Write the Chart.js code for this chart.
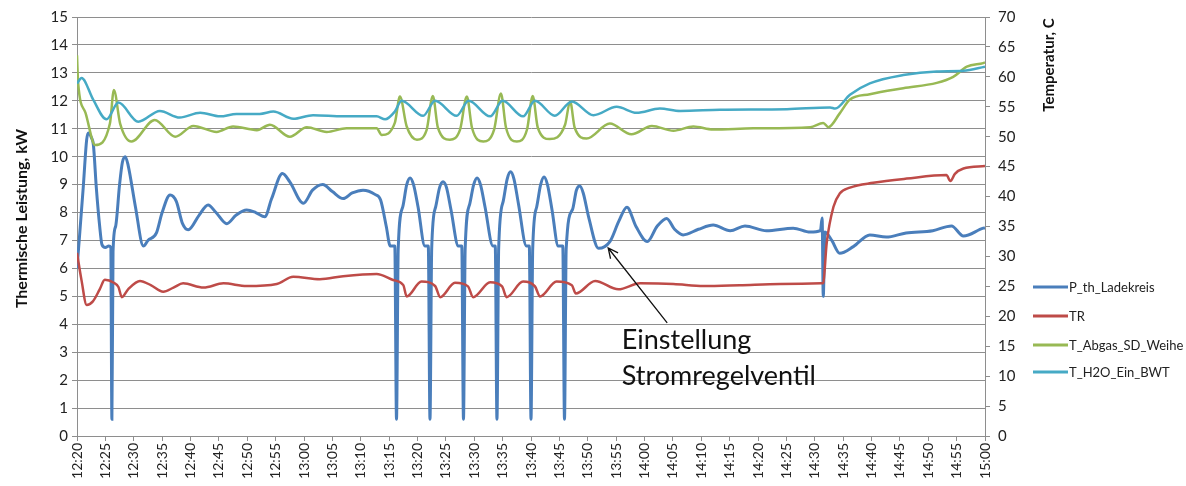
<!DOCTYPE html>
<html>
<head>
<meta charset="utf-8">
<script src="https://cdn.jsdelivr.net/npm/chart.js@4.4.1/dist/chart.umd.min.js"></script>
<style>
  html, body { margin: 0; padding: 0; background: #fff; }
  canvas { display: block; }
</style>
</head>
<body>
<canvas id="chart" width="1186" height="486"></canvas>
<script>
// x-Achse: Minuten seit 12:20
const timeTicks = ['12:20', '12:25', '12:30', '12:35', '12:40', '12:45', '12:50', '12:55',
  '13:00', '13:05', '13:10', '13:15', '13:20', '13:25', '13:30', '13:35', '13:40', '13:45',
  '13:50', '13:55', '14:00', '14:05', '14:10', '14:15', '14:20', '14:25', '14:30', '14:35',
  '14:40', '14:45', '14:50', '14:55', '15:00'];

const seriesNames = ['P_th_Ladekreis', 'TR', 'T_Abgas_SD_Weihe', 'T_H2O_Ein_BWT'];

// P_th_Ladekreis, kW (linke Achse)
const pthMinutes = [0, 0.5, 1.1, 1.7, 2.0, 2.5, 2.9, 3.4, 4.0, 4.4, 5.0, 5.6, 5.95, 6.15, 6.35,
  6.8, 7.5, 8.0, 8.5, 9.0, 10.3, 11.7, 12.5, 14.0, 15.0, 16.4, 17.5, 18.6, 19.6, 21.5, 23.1, 24.5,
  26.4, 28.0, 29.9, 31.5, 33.1, 34.3, 36.2, 37.5, 39.9, 41.5, 43.3, 45.0, 46.9, 48.5, 50.4,
  52.5, 53.5, 54.5, 55.2, 56.0, 56.3,
  56.6, 57.4, 58.1, 58.7, 59.3, 60.1, 61.3, 61.9, 62.2,
  62.5, 63.2, 63.9, 64.5, 65.1, 65.9, 67.2, 67.8, 68.1,
  68.4, 69.2, 69.9, 70.5, 71.1, 71.9, 73.3, 73.7, 74.0,
  74.3, 75.1, 75.8, 76.4, 77.0, 77.8, 79.2, 79.7, 80.0,
  80.3, 81.0, 81.7, 82.3, 82.9, 83.7, 84.8, 85.6, 85.9,
  86.2, 87.3, 88.0, 88.6, 89.2, 90.2,
  91.9, 93.9, 95.5, 96.9, 98.5, 100.5, 102.2, 103.9, 105.3, 106.8, 109.5, 112.1, 115.1,
  117.7, 121.5, 126.2, 129.2, 131.0, 131.3, 131.5, 131.8, 133.0, 134.4, 136.8, 139.7, 142.6,
  146.1, 150.8, 154.1, 156.2, 159.7, 160];
const pthValues = [6.0, 7.3, 8.9, 10.6, 10.85, 10.7, 10.4, 8.9, 7.5, 6.85, 6.75, 6.8, 6.75, 0.6, 6.6,
  7.5, 9.0, 9.8, 10.0, 9.7, 8.2, 6.8, 7.0, 7.27, 8.0, 8.63, 8.4, 7.6, 7.38, 7.9, 8.27, 8.0,
  7.6, 7.9, 8.09, 8.0, 7.85, 8.5, 9.4, 9.1, 8.33, 8.8, 9.0, 8.75, 8.5, 8.7, 8.8,
  8.65, 8.45, 7.5, 6.8, 6.8, 0.6,
  6.7, 8.2, 9.0, 9.24, 9.0, 8.2, 6.8, 6.8, 0.6,
  6.7, 8.2, 8.9, 9.1, 8.9, 8.1, 6.8, 6.8, 0.6,
  6.7, 8.3, 9.0, 9.24, 9.0, 8.2, 6.8, 6.8, 0.6,
  6.7, 8.4, 9.2, 9.46, 9.2, 8.3, 6.8, 6.8, 0.6,
  6.7, 8.2, 9.0, 9.27, 9.0, 8.1, 6.8, 6.8, 0.6,
  6.7, 8.1, 8.8, 8.95, 8.7, 7.8,
  6.72, 6.96, 7.7, 8.19, 7.5, 6.96, 7.5, 7.79, 7.4, 7.2, 7.4, 7.55, 7.35,
  7.52, 7.35, 7.44, 7.3, 7.35, 7.8, 5.0, 7.3, 7.0, 6.54, 6.78, 7.2, 7.12,
  7.27, 7.35, 7.52, 7.16, 7.44, 7.45];

// TR, °C (rechte Achse)
const trMinutes = [0, 0.8, 1.7, 2.8, 4.0, 4.9, 6.5, 7.3, 7.9, 9.0, 11.1, 13.0, 15.2, 17.0, 18.7,
  22.3, 25.8, 29.9, 35.2, 38.1, 42.8, 46.9, 52.8, 55.7, 57.5, 58.1, 60.7, 63.1, 64.0, 66.6,
  68.9, 69.8, 72.8, 74.9, 75.7, 78.6, 80.7, 81.6, 84.5, 87.2, 87.9, 91.3, 95.4, 99.2, 105.1,
  110.4, 116.8, 123.9, 131.2, 131.5, 132.1, 133.3, 134.4, 136.2, 140.3, 146.2, 153.2, 153.9,
  154.7, 156.2, 160];
const trValues = [30.6, 26.0, 21.9, 22.5, 24.5, 26.1, 25.6, 24.9, 23.2, 24.5, 25.9, 25.2, 24.1, 24.8, 25.5,
  24.8, 25.5, 25.06, 25.4, 26.6, 26.2, 26.7, 27.06, 26.06, 25.2, 23.3, 25.8, 25.06, 23.2, 25.6,
  25.0, 23.2, 25.7, 25.0, 23.2, 25.8, 25.0, 23.3, 25.8, 25.2, 23.8, 25.9, 24.5, 25.5, 25.4,
  25.06, 25.2, 25.4, 25.5, 25.6, 32.2, 38.3, 40.5, 41.5, 42.3, 43.0, 43.6, 42.6,
  43.8, 44.7, 45.1];

// T_Abgas_SD_Weihe, °C (rechte Achse)
const abgasMinutes = [0, 0.2, 1.5, 3.2, 5.8, 6.5, 7.6, 9.6, 13.7, 17.3, 20.5, 24.6, 27.5, 31.7, 34.0,
  37.5, 40.5, 44.0, 47.5, 52.8, 53.7, 56.0, 56.9, 58.1, 59.9, 61.6, 62.7, 63.6, 65.7, 67.5,
  68.7, 69.6, 71.6, 73.5, 74.7, 75.6, 77.5, 79.3, 80.3, 81.2, 83.3, 86.0, 86.9, 87.7, 89.8,
  93.9, 97.7, 101.3, 105.1, 108.6, 112.1, 119.2, 129.2, 131.5, 132.4, 134.4, 136.2, 139.7,
  145.6, 151.5, 154.4, 156.8, 159.7, 160];
const abgasValues = [63.6, 59.0, 54.0, 48.6, 52.2, 57.8, 52.2, 49.2, 52.8, 50.0, 51.8, 50.8, 51.7, 51.1, 52.0,
  50.0, 51.6, 50.8, 51.4, 51.4, 50.3, 52.3, 56.7, 51.7, 49.5, 51.1, 56.8, 51.5, 49.5, 51.2,
  56.7, 51.5, 49.2, 51.2, 57.2, 51.5, 49.2, 51.2, 56.8, 51.5, 49.6, 52.0, 55.9, 51.5, 49.7,
  52.2, 50.4, 51.8, 51.0, 51.7, 51.2, 51.4, 51.6, 52.3, 51.6, 53.9, 56.2, 57.1,
  58.1, 59.0, 60.0, 61.7, 62.3, 62.4];

// T_H2O_Ein_BWT, °C (rechte Achse)
const h2oMinutes = [0, 0.8, 2.9, 5.2, 7.3, 10.8, 14.6, 18.1, 21.7, 25.2, 28.1, 32.2, 34.6, 38.1, 41.6,
  46.9, 52.8, 54.3, 56.0, 57.2, 61.0, 63.1, 66.9, 69.0, 72.8, 75.0, 78.6, 80.7, 84.2, 87.2,
  91.0, 95.1, 98.6, 102.7, 106.3, 113.3, 125.1, 132.7, 133.6, 136.2, 139.7, 145.6, 151.5,
  156.2, 160];
const h2oValues = [58.9, 59.8, 56.1, 52.9, 55.7, 52.5, 54.3, 53.2, 54.0, 53.4, 53.8, 53.8, 54.2, 53.0, 53.6,
  53.4, 53.4, 52.9, 54.2, 56.0, 53.5, 56.0, 53.5, 56.0, 53.4, 56.0, 53.4, 56.0, 53.5, 55.9,
  53.6, 55.0, 54.0, 54.7, 54.3, 54.5, 54.6, 54.9, 54.7, 57.0, 58.9, 60.3, 60.9,
  61.0, 61.7];

// Anmerkung im Diagramm (Minuten / kW)
const noteLines = ['Einstellung', 'Stromregelventil'];
const noteText = { x: 96.0, y: [3.44, 2.15] };
const noteArrow = { fromX: 104.0, fromY: 4.05, toX: 93.6, toY: 6.73 };

const colors = ['#4A7EBB', '#BE4B48', '#98B954', '#46AAC5'];
const gridColor = '#8E8E8E';
const FONT = 'Lato, "Open Sans", sans-serif';

function toPoints(xs, ys) {
  return xs.map((x, i) => ({ x: x, y: ys[i] }));
}

const overlayPlugin = {
  id: 'overlay',
  afterDraw(chart) {
    const { ctx, chartArea } = chart;
    const xs = chart.scales.x;
    const ys = chart.scales.y;
    ctx.save();
    ctx.fillStyle = '#111';

    // Achsentitel links
    ctx.font = 'bold 16px ' + FONT;
    ctx.textAlign = 'center';
    ctx.textBaseline = 'middle';
    ctx.save();
    ctx.translate(22, (chartArea.top + chartArea.bottom) / 2 - 8);
    ctx.rotate(-Math.PI / 2);
    ctx.fillText('Thermische Leistung, kW', 0, 0);
    ctx.restore();

    // Achsentitel rechts (oben)
    ctx.font = 'bold 15px ' + FONT;
    ctx.save();
    ctx.translate(1049, 65);
    ctx.rotate(-Math.PI / 2);
    ctx.fillText('Temperatur, C', 0, 0);
    ctx.restore();

    // Legende
    ctx.font = '13px ' + FONT;
    ctx.textAlign = 'left';
    const legendY = [287, 316, 345, 372];
    chart.data.datasets.forEach((ds, i) => {
      ctx.strokeStyle = ds.borderColor;
      ctx.lineWidth = 3;
      ctx.beginPath();
      ctx.moveTo(1033, legendY[i]);
      ctx.lineTo(1068, legendY[i]);
      ctx.stroke();
      ctx.fillStyle = '#222';
      ctx.fillText(ds.label, 1069, legendY[i] + 1);
    });

    // Pfeil
    const x1 = xs.getPixelForValue(noteArrow.fromX), y1 = ys.getPixelForValue(noteArrow.fromY);
    const x2 = xs.getPixelForValue(noteArrow.toX), y2 = ys.getPixelForValue(noteArrow.toY);
    ctx.strokeStyle = '#111';
    ctx.lineWidth = 1.3;
    ctx.beginPath();
    ctx.moveTo(x1, y1);
    ctx.lineTo(x2, y2);
    const ang = Math.atan2(y2 - y1, x2 - x1);
    const head = 11;
    ctx.moveTo(x2 - head * Math.cos(ang - 0.45), y2 - head * Math.sin(ang - 0.45));
    ctx.lineTo(x2, y2);
    ctx.lineTo(x2 - head * Math.cos(ang + 0.45), y2 - head * Math.sin(ang + 0.45));
    ctx.stroke();

    // Text
    ctx.fillStyle = '#111';
    ctx.font = '27px ' + FONT;
    ctx.textBaseline = 'middle';
    noteLines.forEach((line, i) => {
      ctx.fillText(line, xs.getPixelForValue(noteText.x), ys.getPixelForValue(noteText.y[i]));
    });
    ctx.restore();
  }
};

const ctx = document.getElementById('chart').getContext('2d');

new Chart(ctx, {
  type: 'line',
  data: {
    datasets: [
      { label: seriesNames[0], data: toPoints(pthMinutes, pthValues), yAxisID: 'y', borderWidth: 3, order: 4 },
      { label: seriesNames[1], data: toPoints(trMinutes, trValues), yAxisID: 'y1', borderWidth: 2.5, order: 3 },
      { label: seriesNames[2], data: toPoints(abgasMinutes, abgasValues), yAxisID: 'y1', borderWidth: 2.5, order: 2 },
      { label: seriesNames[3], data: toPoints(h2oMinutes, h2oValues), yAxisID: 'y1', borderWidth: 2.5, order: 1 },
    ].map((ds, i) => ({
      ...ds,
      borderColor: colors[i],
      backgroundColor: colors[i],
      pointRadius: 0,
      cubicInterpolationMode: 'monotone',
      fill: false,
    })),
  },
  options: {
    responsive: false,
    devicePixelRatio: 1,
    animation: false,
    layout: { padding: { top: 17, left: 0, right: 0, bottom: 0 } },
    plugins: {
      legend: { display: false },
      tooltip: { enabled: false },
    },
    scales: {
      x: {
        type: 'linear',
        min: 0,
        max: 160,
        afterFit: (scale) => { scale.height = 50; },
        afterBuildTicks: (scale) => {
          scale.ticks = timeTicks.map((t, i) => ({ value: i * 5 }));
        },
        ticks: {
          autoSkip: false,
          minRotation: 90,
          maxRotation: 90,
          padding: 2,
          color: '#222',
          font: { family: FONT, size: 14 },
          callback: (value, index) => timeTicks[index],
        },
        grid: { drawOnChartArea: false, tickLength: 5, color: gridColor },
        border: { color: gridColor },
      },
      y: {
        position: 'left',
        min: 0,
        max: 15,
        afterFit: (scale) => { scale.width = 77; },
        ticks: {
          stepSize: 1,
          padding: 4,
          color: '#222',
          font: { family: FONT, size: 15 },
        },
        grid: { color: gridColor, tickLength: 5 },
        border: { color: gridColor },
      },
      y1: {
        position: 'right',
        min: 0,
        max: 70,
        afterFit: (scale) => { scale.width = 201; },
        ticks: {
          stepSize: 5,
          padding: 8,
          color: '#222',
          font: { family: FONT, size: 15 },
        },
        grid: { drawOnChartArea: false, color: gridColor, tickLength: 5 },
        border: { color: gridColor },
      },
    },
  },
  plugins: [overlayPlugin],
});
</script>
</body>
</html>
